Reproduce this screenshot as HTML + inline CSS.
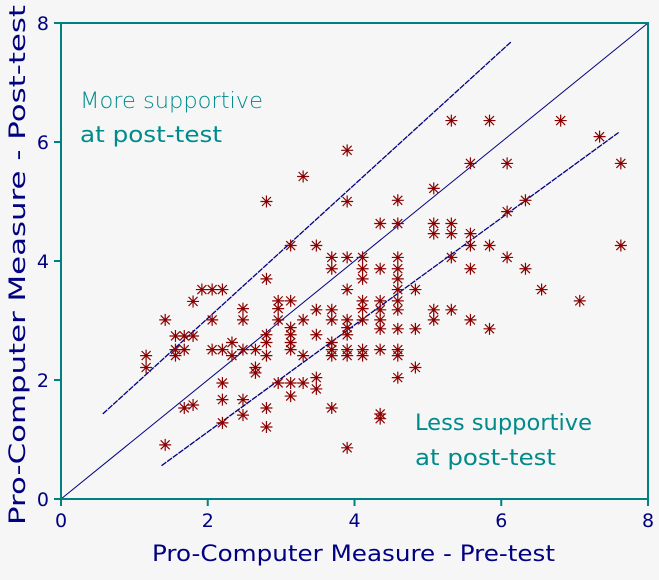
<!DOCTYPE html>
<html><head><meta charset="utf-8"><style>
html,body{margin:0;padding:0;background:#f6f6f6;}
svg{display:block;font-family:"DejaVu Sans","Liberation Sans",sans-serif;}
</style></head><body>
<svg id="chart" width="659" height="580" viewBox="0 0 659 580">
<rect x="0" y="0" width="659" height="580" fill="#f6f6f6"/>
<g id="lines"></g>
<g id="pts"></g>
<rect x="61" y="23" width="587" height="476" fill="none" stroke="#008080" stroke-width="2"/>
<g id="ticks"></g>
<text x="80" y="108" fill="#008b8b" font-size="22" font-weight="300" textLength="183" lengthAdjust="spacingAndGlyphs">More supportive</text>
<text x="80" y="142" fill="#008b8b" font-size="22" textLength="142" lengthAdjust="spacingAndGlyphs">at post-test</text>
<text x="415" y="430" fill="#008b8b" font-size="22" textLength="177" lengthAdjust="spacingAndGlyphs">Less supportive</text>
<text x="415" y="465" fill="#008b8b" font-size="22" textLength="141" lengthAdjust="spacingAndGlyphs">at post-test</text>
<text x="152" y="561" fill="#000080" font-size="22" textLength="403" lengthAdjust="spacingAndGlyphs">Pro-Computer Measure - Pre-test</text>
<text transform="translate(25,525) rotate(-90)" fill="#000080" font-size="22" textLength="520" lengthAdjust="spacingAndGlyphs">Pro-Computer Measure - Post-test</text>
</svg>
<script>
const xTicks=[0,2,4,6,8];
const yTicks=[0,2,4,6,8];
const preX=[3.30,2.80,3.90,3.13,3.48,3.69,3.90,4.11,3.69,4.11,4.11,2.80,1.92,2.06,2.20,3.90,1.80,2.96,3.13,4.11,2.48,2.96,3.48,3.69,4.11,1.42,2.06,2.48,2.96,3.30,3.69,3.90,4.11,3.13,3.90,1.56,1.68,1.80,2.80,3.13,3.48,3.90,2.80,3.13,3.69,2.33,1.56,1.68,2.06,2.20,2.48,2.65,3.13,3.69,3.90,4.11,1.16,1.56,2.33,2.80,3.30,3.69,3.90,4.11,1.16,2.65,2.65,2.20,2.96,3.13,3.30,3.48,3.48,3.13,1.68,1.80,2.20,2.48,2.80,3.69,2.48,2.20,2.80,1.42,3.90,5.32,5.84,6.81,7.34,3.90,5.58,6.08,7.63,5.08,4.59,6.33,6.08,4.35,4.59,5.08,5.32,5.08,5.32,5.58,5.58,5.84,7.63,4.59,5.32,6.08,4.35,4.59,5.58,6.33,4.59,4.59,4.83,6.55,4.35,4.59,7.07,4.35,4.59,5.08,5.32,4.35,5.08,5.58,4.35,4.59,4.83,5.84,4.35,4.59,4.59,4.83,4.59,4.35,4.35];
const postY=[5.42,5.00,5.00,4.26,4.26,4.06,4.06,4.06,3.87,3.87,3.70,3.70,3.52,3.52,3.52,3.52,3.32,3.33,3.33,3.33,3.20,3.20,3.18,3.18,3.20,3.01,3.01,3.01,3.01,3.01,3.01,3.01,3.01,2.88,2.88,2.74,2.74,2.74,2.76,2.76,2.76,2.76,2.63,2.63,2.63,2.63,2.51,2.51,2.51,2.51,2.51,2.51,2.51,2.51,2.51,2.51,2.41,2.41,2.41,2.41,2.41,2.41,2.41,2.41,2.21,2.21,2.12,1.95,1.95,1.95,1.95,2.04,1.85,1.73,1.53,1.58,1.67,1.67,1.53,1.53,1.41,1.28,1.21,0.91,0.86,6.36,6.36,6.36,6.09,5.86,5.64,5.64,5.64,5.22,5.02,5.02,4.83,4.63,4.63,4.63,4.63,4.46,4.46,4.46,4.26,4.26,4.26,4.06,4.06,4.06,3.87,3.87,3.87,3.87,3.70,3.52,3.52,3.52,3.33,3.33,3.33,3.18,3.18,3.18,3.18,3.01,3.01,3.01,2.86,2.86,2.86,2.86,2.51,2.51,2.41,2.21,2.04,1.43,1.35];
const refLineStart=[[0,0],[0.57,1.43],[1.37,0.56]];
const refLineEnd=[[8,8],[6.14,7.69],[7.60,6.16]];
const NS='http://www.w3.org/2000/svg';
const X0=61,X1=648,Y0=499,Y1=23;
function sx(v){return X0+(X1-X0)*v/8;}
function sy(v){return Y0-(Y0-Y1)*v/8;}
const lg=document.getElementById('lines');
refLineStart.forEach((s,i)=>{
  const l=document.createElementNS(NS,'line');
  l.setAttribute('x1',sx(s[0]));l.setAttribute('y1',sy(s[1]));
  l.setAttribute('x2',sx(refLineEnd[i][0]));l.setAttribute('y2',sy(refLineEnd[i][1]));
  l.setAttribute('stroke','#000080');l.setAttribute('stroke-width',i==0?1:1.3);
  if(i>0)l.setAttribute('stroke-dasharray','6 1');
  
  
  lg.appendChild(l);
});
const pg=document.getElementById('pts');
preX.forEach((x,i)=>{
  const cx=sx(x),cy=sy(postY[i]),r=6,d=4.5;
  const p=document.createElementNS(NS,'path');
  p.setAttribute('d',`M${cx-r} ${cy}H${cx+r}M${cx} ${cy-r}V${cy+r}M${cx-d} ${cy-d}L${cx+d} ${cy+d}M${cx-d} ${cy+d}L${cx+d} ${cy-d}`);
  p.setAttribute('stroke','#8b0000');p.setAttribute('stroke-width','1.2');p.setAttribute('fill','none');
  
  
  pg.appendChild(p);
});
const tg=document.getElementById('ticks');
xTicks.forEach(v=>{
  const t=document.createElementNS(NS,'line');
  t.setAttribute('x1',sx(v));t.setAttribute('x2',sx(v));t.setAttribute('y1',Y0);t.setAttribute('y2',Y0+7);
  t.setAttribute('stroke','#008080');t.setAttribute('stroke-width','2');
  
  
  tg.appendChild(t);
  const tx=document.createElementNS(NS,'text');
  tx.setAttribute('x',sx(v));tx.setAttribute('y',Y0+28);tx.setAttribute('text-anchor','middle');
  tx.setAttribute('fill','#000080');tx.setAttribute('font-size','19');
  tx.textContent=v;
  
  
  tg.appendChild(tx);
});
yTicks.forEach(v=>{
  const t=document.createElementNS(NS,'line');
  t.setAttribute('x1',X0-7);t.setAttribute('x2',X0);t.setAttribute('y1',sy(v));t.setAttribute('y2',sy(v));
  t.setAttribute('stroke','#008080');t.setAttribute('stroke-width','2');
  
  
  tg.appendChild(t);
  const tx=document.createElementNS(NS,'text');
  tx.setAttribute('x',X0-12);tx.setAttribute('y',sy(v)+7);tx.setAttribute('text-anchor','end');
  tx.setAttribute('fill','#000080');tx.setAttribute('font-size','19');
  tx.textContent=v;
  
  
  tg.appendChild(tx);
});
</script>
</body></html>
